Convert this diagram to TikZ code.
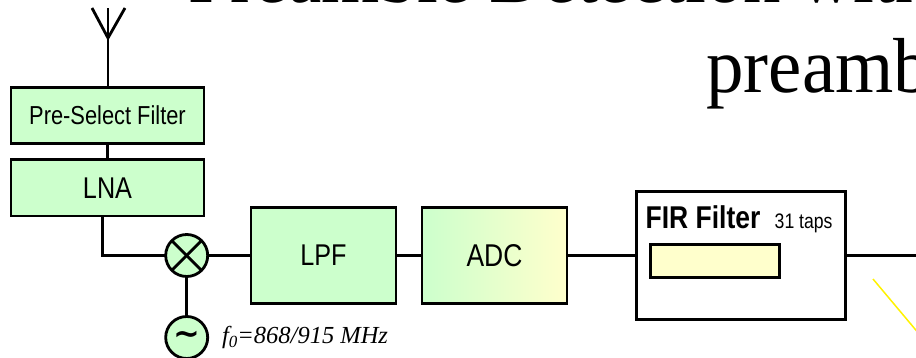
\documentclass[tikz,border=0pt]{standalone}
\usepackage{fontspec}
\setmainfont[FakeStretch=0.84]{Liberation Sans}
\newfontfamily\titlefont[FakeStretch=0.96]{Liberation Serif}
\newfontfamily\labelfont{Liberation Serif}
\newfontfamily\tildefont{DejaVu Sans}
\usepackage{tikz}
\usetikzlibrary{positioning,calc}
\definecolor{boxgreen}{HTML}{CCFFCC}
\definecolor{boxyellow}{HTML}{FFFFCC}

\begin{document}
\begin{tikzpicture}[
  x=1pt, y=1pt,
  line width=2.8pt,
  blockbox/.style={draw, fill=boxgreen, outer sep=0pt, inner sep=0pt,
                   minimum width=145pt, minimum height=96pt,
                   font=\fontsize{30}{34}\selectfont},
  rfbox/.style={blockbox, minimum width=193pt, minimum height=56.4pt},
  roundel/.style={draw, circle, fill=boxgreen, outer sep=0pt, inner sep=0pt,
                  minimum size=42pt},
  wire/.style={line width=2.8pt},
  headline/.style={anchor=base west, inner sep=0pt, font=\titlefont\fontsize{78}{86}\selectfont}
]
\clip (0,0) rectangle (916,-358);
\useasboundingbox (0,0) rectangle (916,-358);
% --- title -------------------------------------------------------------
\node[headline] (title1) at (187,-3) {Preamble Detection with};
\node[headline] (title2) at (705,-93) {preamb};
% --- RF column ---------------------------------------------------------
\node[rfbox, font=\fontsize{26}{30}\selectfont] (presel) at (107.5,-115.5) {Pre-Select Filter};
\node[rfbox, below=16pt of presel] (lna) {LNA};
\node[roundel, path picture={
    \draw (path picture bounding box.north west) -- (path picture bounding box.south east);
    \draw (path picture bounding box.north east) -- (path picture bounding box.south west);
  }] (mixer) at (186.7,-255.5) {};
\node[roundel, below=40pt of mixer, font=\tildefont\bfseries\fontsize{32}{32}\selectfont] (osc) {\string~};
\node[right=13pt of osc, inner sep=0pt, font=\labelfont\itshape\fontsize{24.5}{27}\selectfont]
  (freq) {f\raisebox{-4pt}{\fontsize{17}{17}\selectfont 0}=868/915 MHz};
% --- baseband row ------------------------------------------------------
\node[blockbox, right=43.3pt of mixer] (lpf) {LPF};
\node[blockbox, right=26pt of lpf, left color=boxgreen, right color=boxyellow,
      font=\fontsize{31.5}{35}\selectfont] (adc) {ADC};
\node[draw, fill=white, outer sep=0pt, minimum width=209pt, minimum height=128.7pt,
      right=69.3pt of adc] (fir) {};
\node[draw, fill=boxyellow, outer sep=0pt, minimum width=129pt, minimum height=33pt,
      below right=53pt and 14pt of fir.north west] (taps) {};
\node[anchor=base west, inner sep=0pt, font=\bfseries\fontsize{31.5}{35}\selectfont]
  (firname) at ($(fir.north west)+(8,-37.5)$) {FIR Filter};
\node[anchor=base west, inner sep=0pt, font=\fontsize{21}{24}\selectfont]
  (firtaps) at ($(fir.north west)+(137,-37.5)$) {31 taps};
% --- antenna -----------------------------------------------------------
\coordinate (anttip) at (108,-38);
\coordinate (anttop) at (108,-8);
\coordinate (antl) at (92,-8);
\coordinate (antr) at (125,-8);
\draw[wire] (presel.north -| anttip) -- (anttop);
\draw[wire] (antl) -- (anttip) -- (antr);
% --- wires -------------------------------------------------------------
\coordinate (firout) at (916,-255.5);
\coordinate (glintA) at (873,-279);
\coordinate (glintB) at (920,-335);
\draw[wire] (presel) -- (lna);
\draw[wire] ($(lna.south)+(-5,0)$) |- (mixer);
\draw[wire] (mixer) -- (osc);
\draw[wire] (mixer) -- (lpf);
\draw[wire] (lpf) -- (adc);
\draw[wire] (adc) -- (fir);
\draw[wire] (fir.east) -- (firout);
\draw[yellow, line width=1.5pt] (glintA) -- (glintB);
\end{tikzpicture}
\end{document}
